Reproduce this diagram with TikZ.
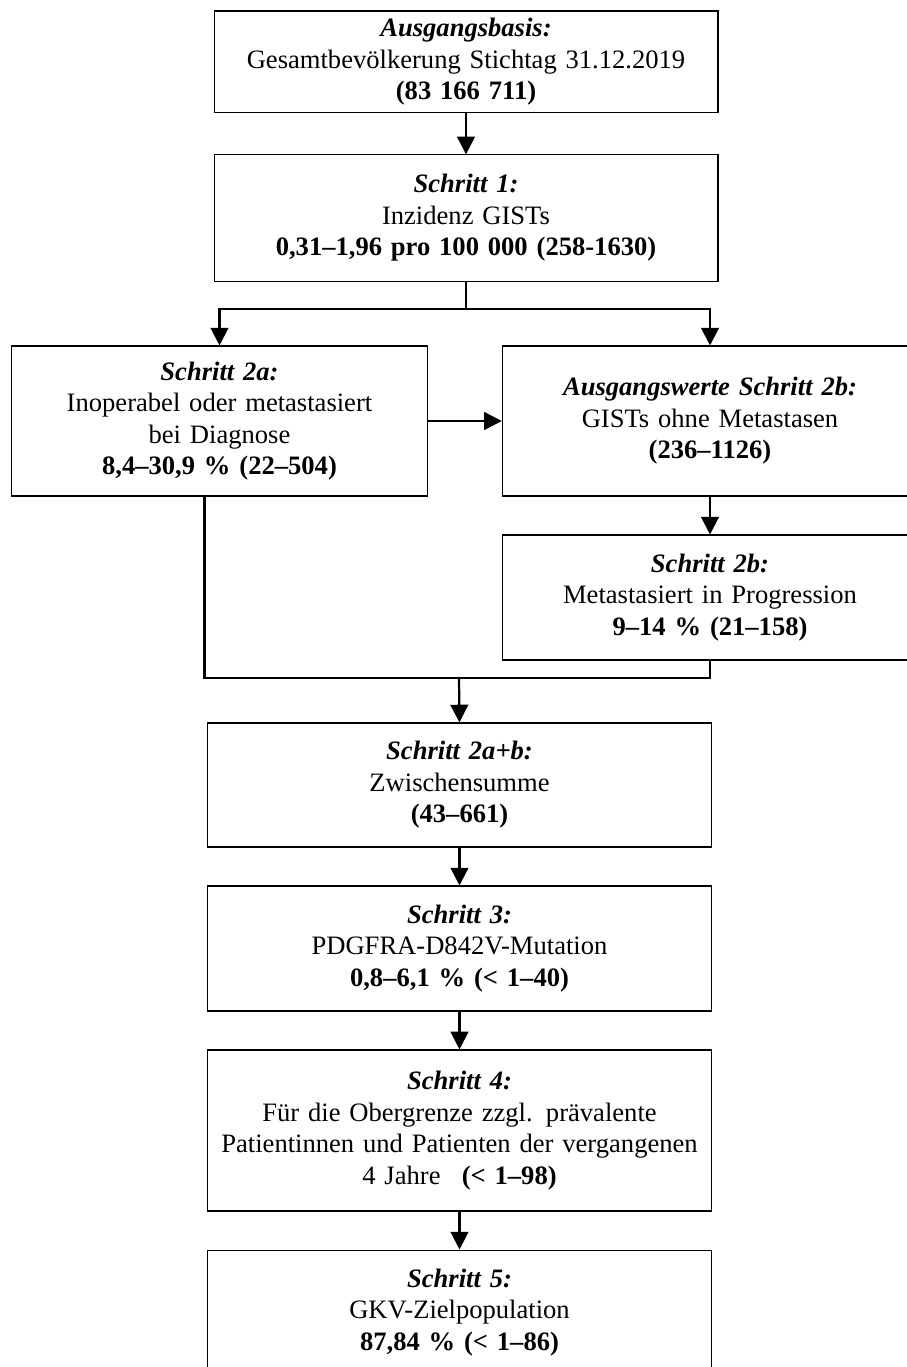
\documentclass[tikz,border=0pt]{standalone}
\usepackage{fontspec}
\setmainfont{Liberation Serif}
\usetikzlibrary{arrows.meta}

\begin{document}
\begin{tikzpicture}[x=0.4515pt, y=-0.4515pt,
    box/.style={draw, line width=0.5pt, align=center, inner sep=0pt, font=\fontsize{12}{14.2}\selectfont},
    wide/.style={box, minimum width=227.5pt, text width=220pt},
    half/.style={box, minimum width=187.5pt, text width=180pt},
    line/.style={line width=1pt},
    conn/.style={line, -{Triangle[length=8pt, width=8pt]}}]
    \useasboundingbox (0,0) rectangle (906,1367);

    \node[wide, minimum height=46pt] (basis) at (466,62) {\textbf{\textit{Ausgangsbasis:}}\\Gesamtbevölkerung Stichtag 31.12.2019\\\textbf{(83 166 711)}};
    \node[wide, minimum height=57pt] (s1) at (466,218) {\textbf{\textit{Schritt 1:}}\\Inzidenz GISTs\\\textbf{0,31--1,96 pro 100 000 (258-1630)}};
    \node[half, minimum height=67.7pt] (s2a) at (219.5,421) {\textbf{\textit{Schritt 2a:}}\\Inoperabel oder metastasiert\\bei Diagnose\\\textbf{8,4--30,9 \% (22--504)}};
    \node[half, minimum height=67.7pt] (s2b0) at (710,421) {\textbf{\textit{Ausgangswerte Schritt 2b:}}\\GISTs ohne Metastasen\\\textbf{(236--1126)}};
    \node[half, minimum height=56.4pt] (s2b) at (710,597.5) {\textbf{\textit{Schritt 2b:}}\\Metastasiert in Progression\\\textbf{9--14 \% (21--158)}};
    \node[wide, minimum height=56pt] (s2ab) at (459.5,785) {\textbf{\textit{Schritt 2a+b:}}\\Zwischensumme\\\textbf{(43--661)}};
    \node[wide, minimum height=56.4pt] (s3) at (459.5,948.5) {\textbf{\textit{Schritt 3:}}\\PDGFRA-D842V-Mutation\\\textbf{0,8--6,1 \% (< 1--40)}};
    \node[wide, minimum height=72.7pt] (s4) at (459.5,1130.5) {\textbf{\textit{Schritt 4:}}\\Für die Obergrenze zzgl. prävalente\\Patientinnen und Patienten der vergangenen\\4 Jahre\hspace{0.8em}\textbf{(< 1--98)}};
    \node[wide, minimum height=56.4pt] (s5) at (459.5,1312.5) {\textbf{\textit{Schritt 5:}}\\GKV-Zielpopulation\\\textbf{87,84 \% (< 1--86)}};

    \coordinate (split) at (466,309);
    \coordinate (join) at (459,678);

    \draw[conn] (basis) -- (s1);
    \draw[line] (s1.south) -- (split); % fork
    \draw[conn] (split) -| (s2a.north);
    \draw[conn] (split) -| (s2b0.north);
    \draw[conn] (s2a.east) -- (s2b0.west);
    \draw[conn] (s2b0) -- (s2b);
    \draw[line] ([xshift=-6.8pt]s2a.south) |- (join); % merge
    \draw[line] (s2b.south) |- (join);
    \draw[conn] (join) -- (s2ab.north);
    \draw[conn] (s2ab) -- (s3);
    \draw[conn] (s3) -- (s4);
    \draw[conn] (s4) -- (s5);

\end{tikzpicture}
\end{document}
